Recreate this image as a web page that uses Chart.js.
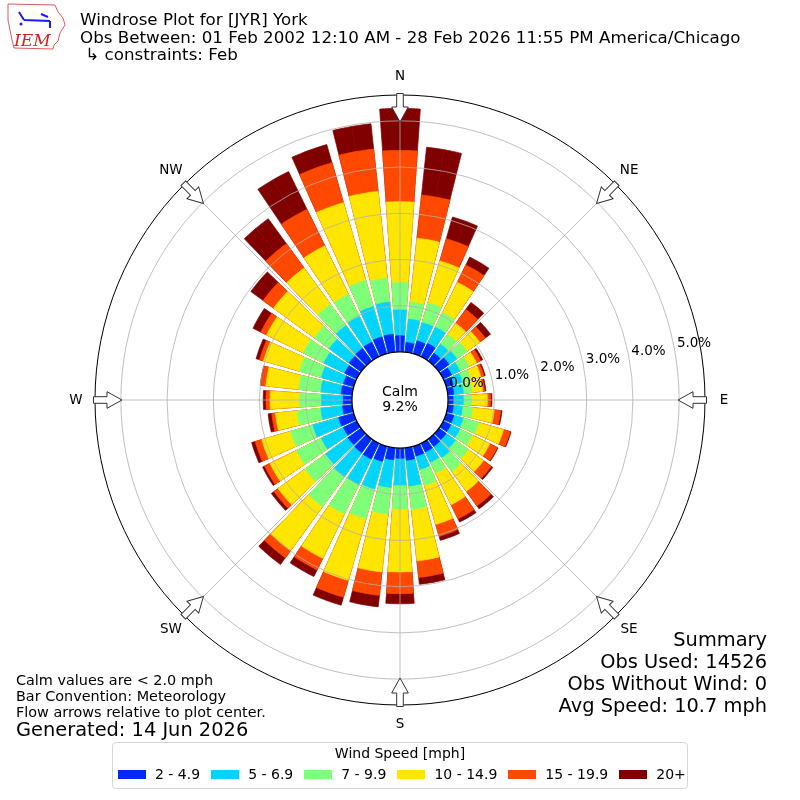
<!DOCTYPE html>
<html>
<head>
<meta charset="utf-8">
<title>Windrose Plot for [JYR] York</title>
<script src="https://cdn.jsdelivr.net/npm/chart.js"></script>
<style>
  body { margin: 0; background: #fff; font-family: "DejaVu Sans", sans-serif; color: #000; }
  #wrap { position: relative; width: 800px; height: 800px; overflow: hidden; }
  #rose { position: absolute; left: 0; top: 0; }
  .txt { position: absolute; white-space: nowrap; }
  #title { left: 80px; top: 11px; font-size: 16.7px; line-height: 17.7px; }
  #notes { left: 16px; top: 672px; font-size: 14.4px; line-height: 16px; }
  #generated { left: 16px; top: 719px; font-size: 19.4px; line-height: 22px; }
  #summary { right: 33px; top: 629px; font-size: 19.4px; line-height: 22px; text-align: right; }
  #legend { position: absolute; left: 112px; top: 742px; width: 576px; height: 47px; box-sizing: border-box;
            border: 1px solid #d6d6d6; border-radius: 4px; background: #fff; }
  #legend .lt { position: absolute; left: 0; right: 0; top: 1px; text-align: center; font-size: 14px; line-height: 18px; white-space: nowrap; }
  #legend .items { position: absolute; left: 5px; top: 22px; display: flex; align-items: center; font-size: 14px; line-height: 18px; white-space: nowrap; }
  #legend .patch { flex: none; width: 28px; height: 9px; margin-right: 9px; }
  #legend .lab { flex: none; margin-right: 11px; white-space: nowrap; }
</style>
</head>
<body>
<div id="wrap">
  <canvas id="rose" width="800" height="800"></canvas>
  <div id="title" class="txt">Windrose Plot for [JYR] York<br>Obs Between: 01 Feb 2002 12:10 AM - 28 Feb 2026 11:55 PM America/Chicago<br>&nbsp;↳ constraints: Feb</div>
  <div id="notes" class="txt">Calm values are &lt; 2.0 mph<br>Bar Convention: Meteorology<br>Flow arrows relative to plot center.</div>
  <div id="generated" class="txt">Generated: 14 Jun 2026</div>
  <div id="summary" class="txt"></div>
  <div id="legend"><div class="lt">Wind Speed [mph]</div><div class="items" id="legendItems"></div></div>
</div>
<script>

// wind directions, degrees (meteorological, from N clockwise)
const directions = [0, 10, 20, 30, 40, 50, 60, 70, 80, 90, 100, 110, 120, 130, 140, 150, 160, 170,
                    180, 190, 200, 210, 220, 230, 240, 250, 260, 270, 280, 290, 300, 310, 320, 330, 340, 350];

const compassLabels = ['N', 'NE', 'E', 'SE', 'S', 'SW', 'W', 'NW'];

const speedLabels = ['2 - 4.9', '5 - 6.9', '7 - 9.9', '10 - 14.9', '15 - 19.9', '20+'];
const speedColors = ['#0028ff', '#00d4ff', '#7dff7a', '#ffe600', '#ff4800', '#800000'];

// percent per direction, one array per speed bin
const speed2to5 = [0.35, 0.21, 0.29, 0.32, 0.21, 0.27, 0.20, 0.16, 0.13, 0.11, 0.12, 0.17, 0.18, 0.19, 0.20, 0.21, 0.22, 0.27,
                   0.22, 0.26, 0.34, 0.38, 0.37, 0.35, 0.32, 0.34, 0.21, 0.19, 0.24, 0.23, 0.29, 0.32, 0.34, 0.35, 0.38, 0.39];
const speed5to7 = [0.56, 0.51, 0.41, 0.39, 0.24, 0.21, 0.20, 0.20, 0.21, 0.22, 0.20, 0.21, 0.22, 0.25, 0.30, 0.25, 0.30, 0.56,
                   0.58, 0.60, 0.62, 0.61, 0.64, 0.60, 0.53, 0.58, 0.47, 0.47, 0.44, 0.50, 0.50, 0.53, 0.61, 0.62, 0.68, 0.70];
const speed7to10 = [0.59, 0.37, 0.45, 0.35, 0.26, 0.27, 0.22, 0.19, 0.18, 0.18, 0.22, 0.35, 0.30, 0.34, 0.36, 0.26, 0.36, 0.51,
                    0.52, 0.58, 0.67, 0.71, 0.80, 0.55, 0.60, 0.50, 0.52, 0.47, 0.48, 0.49, 0.50, 0.40, 0.57, 0.53, 0.59, 0.52];
const speed10to15 = [1.75, 1.39, 0.94, 0.73, 0.30, 0.34, 0.18, 0.23, 0.24, 0.34, 0.47, 0.56, 0.42, 0.41, 0.54, 0.76, 0.88, 1.12,
                     1.36, 1.26, 1.39, 1.07, 1.17, 0.72, 0.64, 0.65, 0.47, 0.64, 0.72, 0.81, 0.88, 1.09, 0.97, 1.17, 1.75, 1.89];
const speed15to20 = [1.11, 0.94, 0.50, 0.42, 0.37, 0.15, 0.10, 0.07, 0.04, 0.07, 0.14, 0.15, 0.18, 0.21, 0.39, 0.34, 0.27, 0.36,
                     0.47, 0.51, 0.38, 0.28, 0.20, 0.11, 0.13, 0.15, 0.08, 0.09, 0.10, 0.09, 0.14, 0.28, 0.65, 0.88, 0.90, 0.92];
const speed20plus = [0.91, 1.04, 0.49, 0.19, 0.19, 0.14, 0.05, 0.03, 0.03, 0.03, 0.03, 0.02, 0.02, 0.04, 0.08, 0.08, 0.09, 0.15,
                     0.22, 0.25, 0.18, 0.16, 0.18, 0.07, 0.05, 0.08, 0.08, 0.06, 0.02, 0.08, 0.19, 0.33, 0.67, 0.91, 0.41, 0.55];

const radialTicks = [0, 1, 2, 3, 4, 5];
const calmPct = 9.2;
const summaryLines = ['Summary', 'Obs Used: 14526', 'Obs Without Wind: 0', 'Avg Speed: 10.7 mph'];

// --- Layout constants ---
const AXIS_MIN = -1.04;   // leaves room for the calm circle at 0 %
const AXIS_MAX = 5.56;
const GRID = '#b0b0b0';
const CLEAR = 'rgba(0,0,0,0)';

// each 10 degree sector is split into 4 slots: right half of a bar, two gap slots, left half of the next bar
// (keeps label index 4k on direction k, and index 18m on the compass points)
const SLOT_DEG = [4, 1, 1, 4];
const SLOTS = directions.length * SLOT_DEG.length;

function isGap(i) {
    const j = i % 4;
    return j === 1 || j === 2;
}

function toSlots(series) {
    const out = [];
    for (let i = 0; i < SLOTS; i++) {
        const k = Math.floor(i / 4), j = i % 4;
        if (j === 0) out.push(series[k]);
        else if (j === 3) out.push(series[(k + 1) % series.length]);
        else out.push(0);
    }
    return out;
}

// stacked bars: each dataset holds the cumulative value up to its bin,
// dataset 0 is drawn last so the lower bins sit on top
const bins = [speed2to5, speed5to7, speed7to10, speed10to15, speed15to20, speed20plus];
let running = directions.map(() => 0);
const datasets = bins.map((bin, b) => {
    running = running.map((v, k) => v + bin[k]);
    const color = speedColors[b];
    return {
        label: speedLabels[b],
        data: toSlots(running),
        backgroundColor: ctx => isGap(ctx.dataIndex) ? CLEAR : color,
        borderColor: ctx => isGap(ctx.dataIndex) ? CLEAR : color,
        borderWidth: ctx => isGap(ctx.dataIndex) ? 0 : 0.7,
        angle: ctx => SLOT_DEG[ctx.dataIndex % 4]
    };
});

const slotLabels = [];
for (let i = 0; i < SLOTS; i++) {
    slotLabels.push(i % 18 === 0 ? compassLabels[i / 18] : '');
}

// --- Decorations: calm circle, outer ring, % labels, compass arrows, logo ---
const roseDecor = {
    id: 'roseDecor',
    afterDraw(chart) {
        const ctx = chart.ctx;
        const r = chart.scales.r;
        const cx = r.xCenter, cy = r.yCenter;
        const r0 = r.getDistanceFromCenterForValue(0);
        const rOut = r.getDistanceFromCenterForValue(r.max);
        ctx.save();

        // calm circle
        ctx.beginPath();
        ctx.arc(cx, cy, r0, 0, Math.PI * 2);
        ctx.fillStyle = '#fff';
        ctx.fill();
        ctx.lineWidth = 1.3;
        ctx.strokeStyle = '#000';
        ctx.stroke();
        ctx.fillStyle = '#000';
        ctx.font = '14px "DejaVu Sans"';
        ctx.textAlign = 'center';
        ctx.textBaseline = 'middle';
        ctx.fillText('Calm', cx, cy - 8);
        ctx.fillText(calmPct.toFixed(1) + '%', cx, cy + 7);

        // outer ring
        ctx.beginPath();
        ctx.arc(cx, cy, rOut, 0, Math.PI * 2);
        ctx.lineWidth = 1;
        ctx.stroke();

        // radial tick labels, 10 degrees above east
        const a = 10 * Math.PI / 180;
        ctx.font = '13.5px "DejaVu Sans"';
        ctx.textAlign = 'left';
        radialTicks.forEach(v => {
            const d = r.getDistanceFromCenterForValue(v);
            ctx.fillText(v.toFixed(1) + '%', cx + d * Math.cos(a) + 2, cy - d * Math.sin(a) - 8);
        });

        // compass labels and flow arrows
        chart.data.labels.forEach((lab, i) => {
            if (!lab) return;
            const p = r.getPointPosition(i, rOut + 19);
            ctx.textAlign = 'center';
            ctx.fillStyle = '#000';
            ctx.fillText(lab, p.x, p.y);
            ctx.save();
            ctx.translate(cx, cy);
            ctx.rotate(r.getIndexAngle(i));
            ctx.beginPath();
            ctx.moveTo(-3.3, -rOut - 1.5);
            ctx.lineTo(3.3, -rOut - 1.5);
            ctx.lineTo(3.3, -rOut + 12);
            ctx.lineTo(8.3, -rOut + 12);
            ctx.lineTo(0, -rOut + 27);
            ctx.lineTo(-8.3, -rOut + 12);
            ctx.lineTo(-3.3, -rOut + 12);
            ctx.closePath();
            ctx.fillStyle = '#fff';
            ctx.fill();
            ctx.strokeStyle = '#333';
            ctx.lineWidth = 1;
            ctx.stroke();
            ctx.restore();
        });

        // IEM logo (rough)
        ctx.beginPath();
        ctx.moveTo(8, 4);
        ctx.lineTo(55, 5);
        ctx.lineTo(58, 12);
        ctx.lineTo(63, 18);
        ctx.lineTo(65, 25);
        ctx.lineTo(60, 33);
        ctx.lineTo(58, 41);
        ctx.lineTo(54, 45);
        ctx.lineTo(53, 49);
        ctx.lineTo(14, 48);
        ctx.lineTo(12, 40);
        ctx.lineTo(10, 30);
        ctx.lineTo(8, 20);
        ctx.closePath();
        ctx.strokeStyle = '#e05a5a';
        ctx.lineWidth = 1;
        ctx.stroke();
        ctx.strokeStyle = '#1a1aff';
        ctx.lineWidth = 2;
        ctx.beginPath();
        ctx.moveTo(24, 20);
        ctx.lineTo(50, 21);
        ctx.moveTo(19, 12);
        ctx.lineTo(24, 20);
        ctx.moveTo(41, 14);
        ctx.lineTo(48, 17);
        ctx.moveTo(50, 21);
        ctx.lineTo(50, 28);
        ctx.stroke();
        ctx.fillStyle = '#1a1aff';
        ctx.beginPath();
        ctx.arc(21, 24, 1.5, 0, Math.PI * 2);
        ctx.fill();
        ctx.fillStyle = '#d42020';
        ctx.font = 'italic 17px "DejaVu Serif"';
        ctx.textAlign = 'left';
        ctx.textBaseline = 'alphabetic';
        ctx.fillText('IEM', 14, 46);

        ctx.restore();
    }
};

new Chart(document.getElementById('rose'), {
    type: 'polarArea',
    data: {
        labels: slotLabels,
        datasets: datasets
    },
    options: {
        responsive: false,
        animation: false,
        events: [],
        layout: { padding: 95 },
        plugins: {
            legend: { display: false },
            tooltip: { enabled: false }
        },
        scales: {
            r: {
                min: AXIS_MIN,
                max: AXIS_MAX,
                startAngle: 0,
                ticks: { display: false, stepSize: 1, includeBounds: false, z: 1 },
                pointLabels: { display: false },
                grid: {
                    z: 1,
                    circular: true,
                    color: c => (c.tick && c.tick.value < -0.5) ? CLEAR : GRID,
                    lineWidth: 0.8
                },
                angleLines: {
                    display: true,
                    color: c => c.label ? GRID : CLEAR,
                    lineWidth: c => c.label ? 0.8 : 0
                }
            }
        }
    },
    plugins: [roseDecor]
});

// --- HTML text: summary and legend ---
document.getElementById('summary').innerHTML = summaryLines.join('<br>');

const legendItems = document.getElementById('legendItems');
speedLabels.forEach((lab, b) => {
    const patch = document.createElement('span');
    patch.className = 'patch';
    patch.style.background = speedColors[b];
    const text = document.createElement('span');
    text.className = 'lab';
    text.textContent = lab;
    legendItems.appendChild(patch);
    legendItems.appendChild(text);
});
</script>
</body>
</html>
